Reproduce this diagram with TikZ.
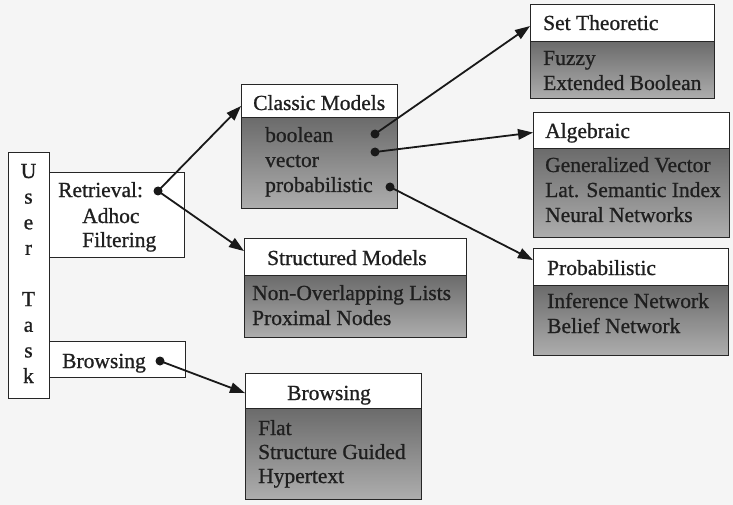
\documentclass[tikz,border=0pt]{standalone}
\usepackage{fontspec}
\setmainfont{Liberation Serif}[BoldFont={Liberation Serif}, BoldFeatures={FakeBold=0.9}]
\usetikzlibrary{arrows.meta}

\begin{document}
\begin{tikzpicture}[x=1pt,y=-1pt,
  lbl/.style={anchor=base west, inner sep=0pt, font=\fontsize{21.5}{25}\selectfont\bfseries, text=black!88},
  clbl/.style={anchor=base, inner sep=0pt, font=\fontsize{21.5}{25}\selectfont\bfseries, text=black!88},
  frame/.style={draw=black!85, line width=1.1pt, anchor=north west, inner sep=0pt},
  head/.style={frame, fill=white},
  body/.style={frame, top color=black!58, bottom color=black!32},
  dot/.style={circle, fill=black!90, inner sep=0pt, minimum size=9pt},
  arr/.style={draw=black!90, line width=1.8pt, -{Triangle[length=15pt,width=10.5pt]}}]

% page
\fill[black!4] (0,0) rectangle (733,505);
\useasboundingbox (0,0) rectangle (733,505);

% user task column
\node[head, minimum width=41pt, minimum height=246pt] (user) at (8,152) {};
\foreach \ch/\yy [count=\i] in {U/178, s/203.6, e/229.3, r/254.9, T/306.1, a/331.8, s/357.4, k/383}
  \node[clbl] (ut\i) at (28.5,\yy) {\ch};

% task boxes
\node[head, minimum width=135pt, minimum height=85pt] (retr) at (49,172) {};
\node[lbl] (retr1) at (58,197) {Retrieval:};
\node[lbl] (retr2) at (82,223) {Adhoc};
\node[lbl] (retr3) at (82,247) {Filtering};
\node[dot] (dret) at (158,191) {};

\node[head, minimum width=136pt, minimum height=36pt] (brw) at (49,341) {};
\node[lbl] (brw1) at (62,368) {Browsing};
\node[dot] (dbrw) at (160,361) {};

% classic models
\node[head, minimum width=156pt, minimum height=33pt] (classichead) at (241,84) {};
\node[body, minimum width=156pt, minimum height=91pt] (classicbody) at (241,117) {};
\node[lbl] (cl0) at (253,110) {Classic Models};
\node[lbl] (cl1) at (265,142) {boolean};
\node[lbl] (cl2) at (265,167) {vector};
\node[lbl] (cl3) at (265,192) {probabilistic};
\node[dot] (dbool) at (375,134) {};
\node[dot] (dvec) at (375,152) {};
\node[dot] (dprob) at (390,187) {};

% structured models
\node[head, minimum width=222pt, minimum height=37pt] (structhead) at (244,238) {};
\node[body, minimum width=222pt, minimum height=62pt] (structbody) at (244,275) {};
\node[lbl] (st0) at (267,265) {Structured Models};
\node[lbl] (st1) at (252,300) {Non-Overlapping Lists};
\node[lbl] (st2) at (252,325) {Proximal Nodes};

% browsing models
\node[head, minimum width=176pt, minimum height=35pt] (browsehead) at (245,373) {};
\node[body, minimum width=176pt, minimum height=91pt] (browsebody) at (245,408) {};
\node[lbl] (bw0) at (287,400) {Browsing};
\node[lbl] (bw1) at (258,435) {Flat};
\node[lbl] (bw2) at (258,459) {Structure Guided};
\node[lbl] (bw3) at (258,483) {Hypertext};

% set theoretic
\node[head, minimum width=184pt, minimum height=37pt] (setthead) at (530,4) {};
\node[body, minimum width=184pt, minimum height=57pt] (settbody) at (530,41) {};
\node[lbl] (se0) at (543,30) {Set Theoretic};
\node[lbl] (se1) at (543,65) {Fuzzy};
\node[lbl] (se2) at (543,90) {Extended Boolean};

% algebraic
\node[head, minimum width=196pt, minimum height=36pt] (alghead) at (533,112) {};
\node[body, minimum width=196pt, minimum height=89pt] (algbody) at (533,148) {};
\node[lbl] (al0) at (545,138) {Algebraic};
\node[lbl] (al1) at (545,172) {Generalized Vector};
\node[lbl] (al2) at (545,197) {Lat. Semantic Index};
\node[lbl] (al3) at (545,222) {Neural Networks};

% probabilistic
\node[head, minimum width=195pt, minimum height=37pt] (probhead) at (533,248) {};
\node[body, minimum width=195pt, minimum height=70pt] (probbody) at (533,285) {};
\node[lbl] (pr0) at (547,275) {Probabilistic};
\node[lbl] (pr1) at (547,308) {Inference Network};
\node[lbl] (pr2) at (547,333) {Belief Network};

% connectors
\draw[arr] (dret.center) -- ([yshift=-5pt]classichead.west);
\draw[arr] (dret.center) -- ([yshift=6pt]structhead.west);
\draw[arr] (dbrw.center) -- ([yshift=-2pt]browsehead.west);
\draw[arr] (dbool.center) -- ([yshift=-3pt]setthead.west);
\draw[arr] (dvec.center) -- ([yshift=-2pt]alghead.west);
\draw[arr] (dprob.center) -- ([yshift=7pt]probhead.west);
\end{tikzpicture}
\end{document}
